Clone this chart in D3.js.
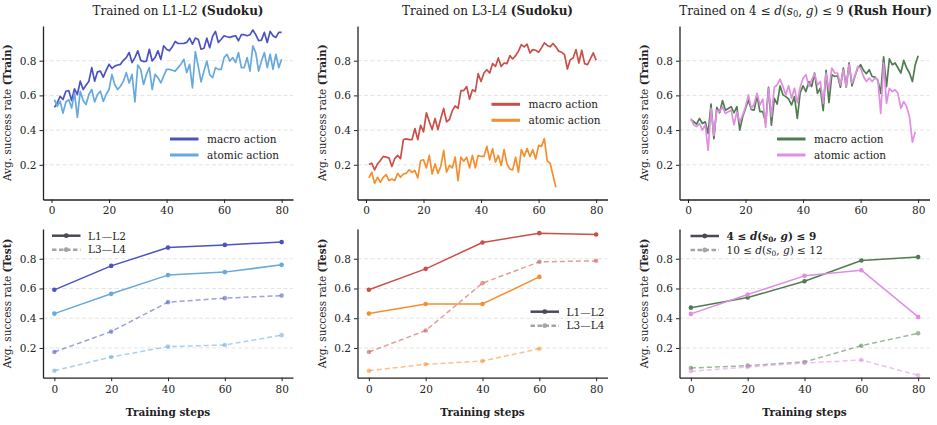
<!DOCTYPE html>
<html>
<head>
<meta charset="utf-8">
<script src="https://cdn.jsdelivr.net/npm/d3@7/dist/d3.min.js"></script>
<style>
  body { margin: 0; background: #fff; }
  svg { font-family: "DejaVu Serif", serif; }
</style>
</head>
<body>
<svg id="chart" width="937" height="425"></svg>
<script>
// x values
const trainSteps = d3.range(1, 81);
const testSteps = [0, 20, 40, 60, 80];
const xTicks = [0, 20, 40, 60, 80];
const yTicks = [0.2, 0.4, 0.6, 0.8];

// train curves, one value per training step
const sudokuL12Macro = [0.531,0.556,0.595,0.576,0.624,0.628,0.57,0.638,0.605,0.682,0.634,0.659,0.682,0.76,0.682,0.736,0.74,0.705,0.744,0.779,
  0.756,0.769,0.775,0.779,0.802,0.818,0.847,0.789,0.818,0.857,0.802,0.795,0.798,0.866,0.798,0.818,0.857,0.808,0.886,0.866,
  0.857,0.88,0.911,0.899,0.899,0.90,0.905,0.93,0.895,0.93,0.924,0.866,0.872,0.93,0.875,0.94,0.969,0.905,0.924,0.944,
  0.938,0.934,0.94,0.944,0.915,0.95,0.95,0.944,0.95,0.977,0.95,0.915,0.919,0.963,0.905,0.969,0.944,0.934,0.963,0.963];
const sudokuL12Atomic = [0.576,0.537,0.566,0.498,0.562,0.576,0.527,0.614,0.473,0.624,0.57,0.547,0.605,0.634,0.562,0.605,0.624,0.566,0.605,0.634,
  0.721,0.663,0.634,0.653,0.682,0.731,0.672,0.721,0.562,0.775,0.75,0.663,0.721,0.76,0.634,0.721,0.702,0.672,0.711,0.75,
  0.75,0.745,0.74,0.76,0.78,0.808,0.731,0.779,0.643,0.853,0.769,0.678,0.74,0.798,0.72,0.702,0.76,0.75,0.75,0.818,
  0.837,0.798,0.818,0.789,0.847,0.76,0.76,0.818,0.74,0.886,0.847,0.74,0.798,0.847,0.76,0.837,0.75,0.837,0.76,0.808];
const sudokuL34Macro = [0.202,0.209,0.171,0.205,0.225,0.248,0.244,0.24,0.19,0.236,0.254,0.236,0.345,0.349,0.345,0.345,0.409,0.345,0.428,0.39,
  0.50,0.448,0.403,0.467,0.403,0.467,0.525,0.448,0.461,0.512,0.539,0.525,0.628,0.628,0.651,0.578,0.632,0.622,0.725,0.68,
  0.729,0.748,0.729,0.783,0.767,0.816,0.767,0.787,0.783,0.829,0.81,0.829,0.855,0.893,0.88,0.895,0.845,0.864,0.86,0.849,
  0.874,0.903,0.888,0.88,0.899,0.88,0.855,0.849,0.835,0.752,0.806,0.816,0.864,0.787,0.86,0.783,0.777,0.81,0.845,0.802];
const sudokuL34Atomic = [0.124,0.157,0.093,0.128,0.099,0.128,0.143,0.109,0.118,0.109,0.151,0.128,0.147,0.151,0.171,0.157,0.167,0.124,0.225,0.229,
  0.182,0.254,0.147,0.205,0.151,0.19,0.283,0.157,0.196,0.182,0.244,0.109,0.244,0.221,0.244,0.182,0.254,0.182,0.254,0.248,
  0.248,0.306,0.229,0.293,0.215,0.254,0.196,0.287,0.205,0.176,0.171,0.244,0.157,0.287,0.248,0.293,0.248,0.287,0.234,0.312,
  0.306,0.351,0.222,0.21,0.14,0.07];
const rushMacro = [0.461,0.448,0.434,0.467,0.438,0.448,0.38,0.55,0.35,0.531,0.5,0.57,0.515,0.525,0.535,0.5,0.535,0.4,0.477,0.525,
  0.574,0.519,0.515,0.597,0.506,0.506,0.442,0.647,0.428,0.583,0.55,0.655,0.603,0.593,0.578,0.545,0.593,0.467,0.616,0.655,
  0.622,0.68,0.651,0.729,0.612,0.641,0.512,0.744,0.558,0.719,0.709,0.713,0.647,0.758,0.647,0.787,0.655,0.709,0.758,0.777,
  0.744,0.725,0.748,0.709,0.705,0.686,0.612,0.822,0.651,0.81,0.777,0.787,0.758,0.729,0.802,0.758,0.729,0.68,0.777,0.829];
const rushAtomic = [0.467,0.43,0.42,0.438,0.4,0.43,0.283,0.525,0.37,0.515,0.506,0.535,0.496,0.506,0.515,0.43,0.506,0.448,0.486,0.535,
  0.603,0.525,0.55,0.612,0.545,0.578,0.415,0.641,0.477,0.647,0.66,0.694,0.651,0.603,0.655,0.583,0.641,0.558,0.647,0.699,
  0.719,0.651,0.69,0.725,0.661,0.68,0.554,0.729,0.632,0.758,0.729,0.729,0.661,0.748,0.651,0.777,0.671,0.709,0.767,0.758,
  0.709,0.68,0.7,0.68,0.7,0.69,0.496,0.787,0.554,0.641,0.622,0.632,0.612,0.525,0.564,0.535,0.477,0.331,0.39];

// test curves at steps 0,20,40,60,80
const l12MacroEasy = [0.591, 0.752, 0.875, 0.893, 0.912];
const l12AtomicEasy = [0.431, 0.564, 0.69, 0.71, 0.759];
const l12MacroHard = [0.173, 0.31, 0.508, 0.535, 0.552];
const l12AtomicHard = [0.047, 0.139, 0.209, 0.22, 0.286];

const l34MacroEasy = [0.591, 0.732, 0.909, 0.972, 0.963];
const l34AtomicEasy = [0.431, 0.496, 0.496, 0.678];
const l34MacroHard = [0.173, 0.317, 0.636, 0.779, 0.786];
const l34AtomicHard = [0.047, 0.09, 0.112, 0.195];

const rushMacroEasy = [0.471, 0.539, 0.649, 0.788, 0.811];
const rushAtomicEasy = [0.429, 0.559, 0.685, 0.723, 0.409];
const rushMacroHard = [0.065, 0.081, 0.106, 0.215, 0.299];
const rushAtomicHard = [0.043, 0.072, 0.099, 0.119, 0.016];

const colors = {
  blue: "#4b53c0", lightBlue: "#67a9dc",
  red: "#c9504a", orange: "#f58e2e",
  green: "#4f7d4f", pink: "#e08ee0"
};

const svg = d3.select("#chart");
const panelLefts = [43, 357.5, 679.5];
const panelWidth = 250;
const rowTops = [26, 229];
const rowHeights = [173.5, 148.7];

const trainLegend = ["macro action", "atomic action"];

const panels = [
  { col: 0, row: 0, title: "l12", titleShift: 10,
    series: [{ values: sudokuL12Macro, color: colors.blue }, { values: sudokuL12Atomic, color: colors.lightBlue }],
    legend: { x: 127, y: 113 } },
  { col: 1, row: 0, title: "l34", titleShift: 5,
    series: [{ values: sudokuL34Macro, color: colors.red }, { values: sudokuL34Atomic, color: colors.orange }],
    legend: { x: 134, y: 78.3 } },
  { col: 2, row: 0, title: "rush", titleShift: 1,
    series: [{ values: rushMacro, color: colors.green }, { values: rushAtomic, color: colors.pink }],
    legend: { x: 97.5, y: 113 } },
  { col: 0, row: 1,
    series: [
      { values: l12MacroEasy, color: colors.blue }, { values: l12AtomicEasy, color: colors.lightBlue },
      { values: l12MacroHard, color: colors.blue, dashed: true }, { values: l12AtomicHard, color: colors.lightBlue, dashed: true }],
    legend: { x: 9, y: 6.7, labels: ["L1\u2014L2", "L3\u2014L4"] } },
  { col: 1, row: 1,
    series: [
      { values: l34MacroEasy, color: colors.red }, { values: l34AtomicEasy, color: colors.orange },
      { values: l34MacroHard, color: colors.red, dashed: true }, { values: l34AtomicHard, color: colors.orange, dashed: true }],
    legend: { x: 173, y: 82.7, labels: ["L1\u2014L2", "L3\u2014L4"] } },
  { col: 2, row: 1,
    series: [
      { values: rushMacroEasy, color: colors.green }, { values: rushAtomicEasy, color: colors.pink },
      { values: rushMacroHard, color: colors.green, dashed: true }, { values: rushAtomicHard, color: colors.pink, dashed: true }],
    legend: { x: 11, y: 7, labels: ["rushEasy", "rushHard"] } }
];

// writes d(s0, g) style math into a text element
function mathRange(text, lo, hi, bold) {
  const w = bold ? "bold" : "normal";
  text.append("tspan").attr("font-weight", w).text(lo + " \u2264 ");
  text.append("tspan").attr("font-style", "italic").attr("font-weight", w).text("d");
  text.append("tspan").attr("font-weight", w).text("(");
  text.append("tspan").attr("font-style", "italic").attr("font-weight", w).text("s");
  text.append("tspan").attr("font-size", "0.7em").attr("dy", 2.5).attr("font-weight", w).text("0");
  text.append("tspan").attr("dy", -2.5).attr("font-weight", w).text(", ");
  text.append("tspan").attr("font-style", "italic").attr("font-weight", w).text("g");
  text.append("tspan").attr("font-weight", w).text(") \u2264 " + hi);
}

panels.forEach(p => {
  const w = panelWidth, h = rowHeights[p.row];
  const isTrain = p.row === 0;
  const g = svg.append("g")
    .attr("transform", `translate(${panelLefts[p.col]},${rowTops[p.row]})`);

  const x = d3.scaleLinear()
    .domain(isTrain ? [-2.95, 83.95] : [-4, 84])
    .range([0, w]);
  const y = d3.scaleLinear().domain([0, 1]).range([h, 0]);

  // grid
  g.selectAll(".grid").data(yTicks).enter().append("line")
    .attr("x1", 0).attr("x2", w)
    .attr("y1", d => y(d)).attr("y2", d => y(d))
    .attr("stroke", "#dcdcdc").attr("stroke-width", 0.8)
    .attr("stroke-dasharray", "4,2.5");

  // lines
  p.series.forEach(s => {
    const xs = isTrain ? trainSteps : testSteps;
    const pts = s.values.map((v, i) => [xs[i], v]);
    const line = d3.line().x(d => x(d[0])).y(d => y(d[1]));
    g.append("path").datum(pts)
      .attr("d", line)
      .attr("fill", "none")
      .attr("stroke", s.color)
      .attr("stroke-width", isTrain ? 1.7 : 1.5)
      .attr("stroke-linejoin", "round")
      .attr("stroke-opacity", s.dashed ? 0.55 : 1)
      .attr("stroke-dasharray", s.dashed ? "5,3" : null);
    if (!isTrain) {
      g.selectAll(null).data(pts).enter().append("circle")
        .attr("cx", d => x(d[0])).attr("cy", d => y(d[1]))
        .attr("r", 2.3)
        .attr("fill", s.color)
        .attr("fill-opacity", s.dashed ? 0.55 : 1);
    }
  });

  // axes
  const yAxis = g.append("g")
    .call(d3.axisLeft(y).tickValues(yTicks).tickFormat(d3.format(".1f")).tickSize(3.5).tickSizeOuter(0).tickPadding(3));
  const xAxis = g.append("g").attr("transform", `translate(0,${h})`)
    .call(d3.axisBottom(x).tickValues(xTicks).tickSize(3.5).tickSizeOuter(0).tickPadding(4));
  [yAxis, xAxis].forEach(a => {
    a.select(".domain").attr("stroke", "#222").attr("stroke-width", 1.3);
    a.selectAll(".tick line").attr("stroke", "#222").attr("stroke-width", 1);
    a.selectAll(".tick text").attr("font-family", "DejaVu Serif").attr("font-size", 10.5).attr("fill", "#222");
  });

  // y label
  const yl = g.append("text")
    .attr("transform", `translate(-32,${h / 2}) rotate(-90)`)
    .attr("text-anchor", "middle")
    .attr("font-size", 10.5).attr("fill", "#222");
  yl.append("tspan").text("Avg. success rate ");
  yl.append("tspan").attr("font-weight", "bold").text(isTrain ? "(Train)" : "(Test)");

  if (!isTrain) {
    g.append("text")
      .attr("x", w / 2).attr("y", h + 38)
      .attr("text-anchor", "middle")
      .attr("font-size", 10.5).attr("font-weight", "bold").attr("fill", "#222")
      .text("Training steps");
  }

  // title
  if (isTrain) {
    const t = g.append("text")
      .attr("x", w / 2 + p.titleShift).attr("y", -11.5)
      .attr("text-anchor", "middle")
      .attr("font-size", 12).attr("fill", "#222");
    if (p.title === "l12" || p.title === "l34") {
      t.append("tspan").text(p.title === "l12" ? "Trained on L1-L2 " : "Trained on L3-L4  ");
      t.append("tspan").attr("font-weight", "bold").text("(Sudoku)");
    } else {
      t.append("tspan").text("Trained on  ");
      mathRange(t, "4", "9", false);
      t.append("tspan").attr("font-weight", "bold").text("  (Rush Hour)");
    }
  }

  // legend
  const lg = g.append("g").attr("transform", `translate(${p.legend.x},${p.legend.y})`);
  if (isTrain) {
    p.series.forEach((s, i) => {
      lg.append("line").attr("x1", 0).attr("x2", 28.5)
        .attr("y1", i * 16).attr("y2", i * 16)
        .attr("stroke", s.color).attr("stroke-width", 3);
      lg.append("text").attr("x", 37).attr("y", i * 16 + 3.8)
        .attr("font-size", 10.5).attr("fill", "#222").text(trainLegend[i]);
    });
  } else {
    [false, true].forEach((dashed, i) => {
      const yy = i * 14;
      lg.append("line").attr("x1", 0).attr("x2", 28.5)
        .attr("y1", yy).attr("y2", yy)
        .attr("stroke", dashed ? "#a3a3aa" : "#4a4a55").attr("stroke-width", 2.5)
        .attr("stroke-dasharray", dashed ? "4.5,2.5" : null);
      lg.append("circle").attr("cx", 14.25).attr("cy", yy).attr("r", 2.4)
        .attr("fill", dashed ? "#a3a3aa" : "#4a4a55");
      const tx = lg.append("text").attr("x", 36).attr("y", yy + 3.8)
        .attr("font-size", 10.5).attr("fill", "#222");
      const lab = p.legend.labels[i];
      if (lab === "rushEasy") mathRange(tx, "4", "9", true);
      else if (lab === "rushHard") mathRange(tx, "10", "12", false);
      else tx.text(lab);
    });
  }
});
</script>
</body>
</html>
